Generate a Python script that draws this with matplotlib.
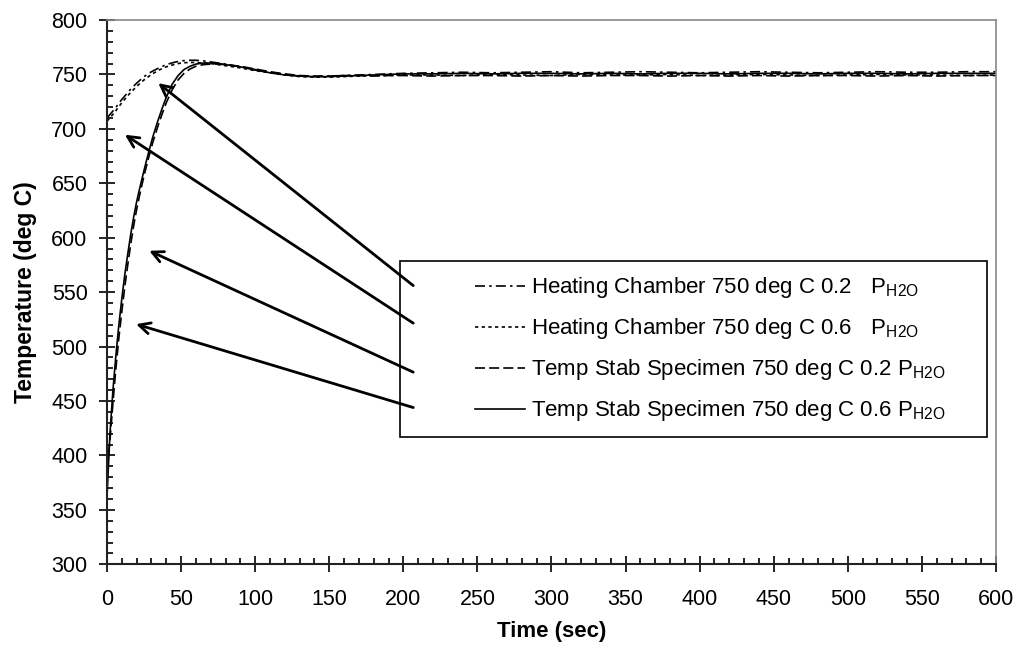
import matplotlib
matplotlib.use("Agg")
import matplotlib.pyplot as plt
from matplotlib.patches import Rectangle
from matplotlib.ticker import MultipleLocator

plt.rcParams['font.family'] = ['Liberation Sans', 'DejaVu Sans']
plt.rcParams['mathtext.fontset'] = 'custom'
plt.rcParams['mathtext.rm'] = 'Liberation Sans'

# heating chamber curves
t_ch = [0, 5, 10, 15, 20, 25, 30, 35, 40, 45, 50, 55, 60, 65, 70, 75, 80,
        90, 100, 110, 120, 130, 140, 150, 160, 170, 180, 190, 200,
        220, 240, 260, 280, 300, 320, 340, 360, 380, 400,
        420, 440, 460, 480, 500, 520, 540, 560, 580, 600]
ch_02 = [710, 718, 727, 735, 742, 748, 752.5, 756, 759, 761, 762.5, 763, 763, 762.5, 761.5, 760.5, 759.5,
         757, 754.5, 752, 750, 748.5, 748, 748.5, 749, 749.5, 750, 750.5, 751,
         751.5, 752, 751.5, 752, 752.5, 751.5, 752, 752.5, 752, 751.5,
         752, 752.5, 752, 751.5, 752, 752.5, 752, 752, 752.5, 752.5]
ch_06 = [707, 715, 724, 732, 739, 745, 750, 754, 757, 759, 760.5, 761, 761, 760.5, 760, 759, 758,
         756, 753.5, 751.5, 749.5, 748, 747.5, 747.5, 748, 748.5, 749, 749, 749.5,
         749.5, 749, 750, 749.5, 749, 750, 749.5, 749.5, 750, 749,
         749.5, 750, 749.5, 749, 749.5, 750, 749.5, 749.5, 749, 749.5]

# temperature stabilised specimen curves
t_sp = [0, 2, 4, 6, 8, 10, 12, 14, 16, 18, 20, 22, 25, 28, 31, 34, 37, 40,
        44, 48, 52, 56, 60, 65, 70, 75, 80,
        90, 100, 110, 120, 130, 140, 150, 160, 170, 180, 190, 200,
        220, 240, 260, 280, 300, 320, 340, 360, 380, 400,
        420, 440, 460, 480, 500, 520, 540, 560, 580, 600]
sp_02 = [388, 414, 448, 480, 508, 532, 555, 575, 594, 611, 626, 639, 657, 673, 688, 701, 713, 724,
         736, 745, 751, 755, 757.5, 759, 759.5, 759.5, 759,
         757.5, 755, 752.5, 750.5, 749, 748.5, 748.5, 749, 749, 748.5, 749, 749,
         748.5, 749, 749, 748.5, 749, 748.5, 749, 749, 748.5, 749,
         748.5, 749, 748.5, 749, 749, 748.5, 749, 748.5, 749, 749]
sp_06 = [362, 420, 460, 492, 520, 544, 566, 585, 603, 619, 633, 645, 662, 678, 693, 706, 718, 729,
         741, 749, 754.5, 757.5, 759.5, 760.5, 760.5, 760, 759,
         757, 754, 751.5, 749.5, 748.5, 748, 748, 748.5, 749, 749.5, 750, 750.5,
         750.5, 751, 750.5, 751, 751, 750.5, 751, 750.5, 751, 751,
         750.5, 751, 751, 750.5, 751, 751, 750.5, 751, 751, 751]

labels = [r'Heating Chamber 750 deg C 0.2  $\mathregular{\ P_{H2O}}$',
          r'Heating Chamber 750 deg C 0.6  $\mathregular{\ P_{H2O}}$',
          r'Temp Stab Specimen 750 deg C 0.2 $\mathregular{P_{H2O}}$',
          r'Temp Stab Specimen 750 deg C 0.6 $\mathregular{P_{H2O}}$']

# arrows from legend rows to curves
arrow_head_t = [34.6, 12.1, 28.5, 19.6]
arrow_head_T = [742, 694.6, 588, 520.6]
arrow_tail_t = [206.7, 206.7, 206.7, 206.7]
arrow_tail_T = [556, 521.5, 476.5, 444]

fig = plt.figure(figsize=(10.21, 6.58), dpi=100)
ax = fig.add_axes([0.1048, 0.1424, 0.8707, 0.8272])

lw = 1.2
l1, = ax.plot(t_ch, ch_02, color='black', lw=lw, linestyle=(0, (6, 2.5, 1.5, 2.5)))
l2, = ax.plot(t_ch, ch_06, color='black', lw=lw, linestyle=(0, (2, 2)))
l3, = ax.plot(t_sp, sp_02, color='black', lw=lw, linestyle=(0, (6, 2.5)))
l4, = ax.plot(t_sp, sp_06, color='black', lw=lw, linestyle='-')

ax.set_xlim(0, 600)
ax.set_ylim(300, 800)
ax.xaxis.set_major_locator(MultipleLocator(50))
ax.yaxis.set_major_locator(MultipleLocator(50))
ax.xaxis.set_minor_locator(MultipleLocator(10))
ax.yaxis.set_minor_locator(MultipleLocator(10))
ax.tick_params(which='major', direction='inout', length=12, width=1.2, labelsize=15.5)
ax.tick_params(axis='x', which='major', pad=12)
ax.tick_params(axis='y', which='major', pad=8)
ax.tick_params(which='minor', direction='in', length=4, width=1.2)

for s in ['left', 'bottom']:
    ax.spines[s].set_color('#222222')
    ax.spines[s].set_linewidth(1.5)
for s in ['top', 'right']:
    ax.spines[s].set_color('#888888')
    ax.spines[s].set_linewidth(1.2)

ax.set_xlabel('Time (sec)', fontsize=16, fontweight='bold', labelpad=8)
ax.set_ylabel('Temperature (deg C)', fontsize=16.5, fontweight='bold', labelpad=10)

# legend box
box = Rectangle((0.3296, 0.234), 0.6604, 0.323, transform=ax.transAxes,
                facecolor='white', edgecolor='black', lw=1.2, zorder=4)
ax.add_patch(box)
leg = ax.legend([l1, l2, l3, l4], labels, loc='upper left',
                bbox_to_anchor=(0.414, 0.531), borderaxespad=0, borderpad=0,
                frameon=False, fontsize=16, handlelength=2.25, handletextpad=0.25,
                labelspacing=0.72)
leg.set_zorder(5)

for ht, hT, tt, tT in zip(arrow_head_t, arrow_head_T, arrow_tail_t, arrow_tail_T):
    ax.annotate('', xy=(ht, hT), xytext=(tt, tT),
                arrowprops=dict(arrowstyle='->', lw=2, color='black',
                                mutation_scale=20, shrinkA=0, shrinkB=0),
                zorder=6)

fig.savefig('out.png', dpi=100)
